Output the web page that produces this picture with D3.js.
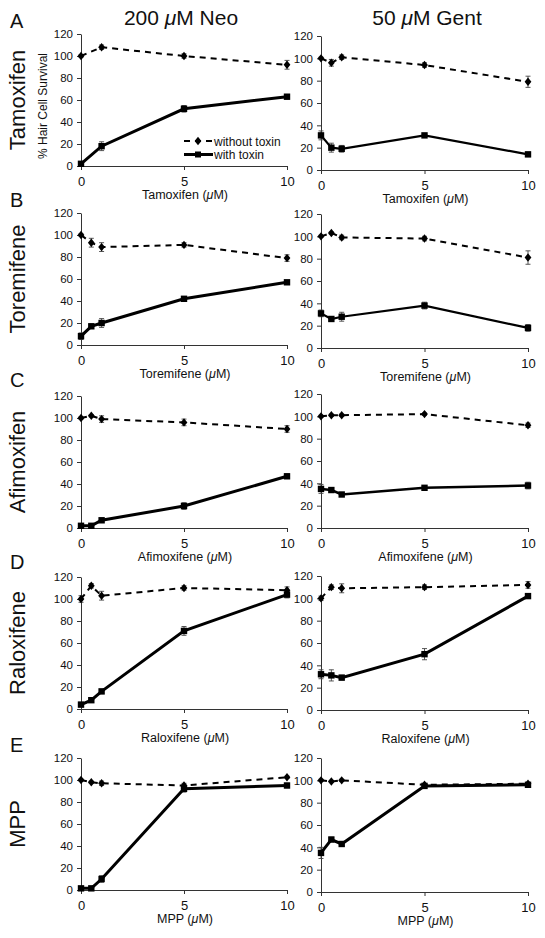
<!DOCTYPE html>
<html>
<head>
<meta charset="utf-8">
<script src="https://cdn.jsdelivr.net/npm/d3@7"></script>
<style>
  html, body { margin: 0; padding: 0; background: #fff; }
  svg { display: block; }
  text { font-family: "Liberation Sans", Arial, Helvetica, sans-serif; fill: #111; }
</style>
</head>
<body>
<svg id="chart" width="545" height="938"></svg>
<script>
// ---------------- DATA ----------------
const panelLetters = ["A", "B", "C", "D", "E"];
const drugs = ["Tamoxifen", "Toremifene", "Afimoxifen", "Raloxifene", "MPP"];
const xTitles = ["Tamoxifen", "Toremifene", "Afimoxifene", "Raloxifene", "MPP"];
const toxinTitles = ["200 ", "50 "];
const toxinNames = [" Neo", " Gent"];
const yTicks = [0, 20, 40, 60, 80, 100, 120];
const xTicks = [0, 5, 10];
const legendLabels = ["without toxin", "with toxin"];

const dosesShort = [0, 1, 5, 10];
const doses = [0, 0.5, 1, 5, 10];

// Neo (left column)
const tamNeoWithout = [100, 108, 100, 92];
const tamNeoWithoutErr = [1, 2, 2, 4];
const tamNeoWith = [2, 18, 52, 63];
const tamNeoWithErr = [1, 4, 3, 2];
const torNeoWithout = [100, 93, 89, 91, 79];
const torNeoWithoutErr = [1, 4, 4, 2, 3];
const torNeoWith = [8, 17, 20, 42, 57];
const torNeoWithErr = [3, 2, 4, 1, 1];
const afiNeoWithout = [100, 102, 99, 96, 90];
const afiNeoWithoutErr = [1, 1, 3, 3, 3];
const afiNeoWith = [2, 2, 7, 20, 47];
const afiNeoWithErr = [1, 1, 2, 3, 2];
const ralNeoWithout = [100, 112, 103, 110, 108];
const ralNeoWithoutErr = [3, 2, 4, 2, 3];
const ralNeoWith = [4, 8, 16, 71, 104];
const ralNeoWithErr = [2, 1, 2, 4, 3];
const mppNeoWithout = [100, 98, 97, 95, 102.5];
const mppNeoWithoutErr = [1, 1, 2, 2, 1];
const mppNeoWith = [1.5, 1.5, 10, 92, 95];
const mppNeoWithErr = [1, 1, 3, 3, 2];

// Gent (right column)
const tamGentWithout = [100, 96, 101, 94, 79];
const tamGentWithoutErr = [1, 3, 2, 2, 5];
const tamGentWith = [31, 20, 19, 31, 14];
const tamGentWithErr = [4, 4, 3, 1, 2];
const torGentWithout = [100, 103, 99, 98, 81];
const torGentWithoutErr = [1, 1, 2, 2, 6];
const torGentWith = [31, 26, 28, 38, 18];
const torGentWithErr = [3, 1, 4, 3, 3];
const afiGentWithout = [100, 101, 101, 102, 92];
const afiGentWithoutErr = [1, 1, 1, 1, 2];
const afiGentWith = [35, 34, 30, 36, 38];
const afiGentWithErr = [4, 2, 1, 1, 3];
const ralGentWithout = [100, 110, 109, 110, 112];
const ralGentWithoutErr = [2, 2, 4, 2, 3];
const ralGentWith = [32, 31, 29, 50, 102];
const ralGentWithErr = [4, 5, 2, 5, 1];
const mppGentWithout = [100, 99, 100, 96, 97];
const mppGentWithoutErr = [1, 1, 1, 1, 1];
const mppGentWith = [35, 47, 43, 95, 96];
const mppGentWithErr = [5, 2, 2, 2, 2];

const neoPanels = [
  [dosesShort, tamNeoWithout, tamNeoWithoutErr, tamNeoWith, tamNeoWithErr],
  [doses, torNeoWithout, torNeoWithoutErr, torNeoWith, torNeoWithErr],
  [doses, afiNeoWithout, afiNeoWithoutErr, afiNeoWith, afiNeoWithErr],
  [doses, ralNeoWithout, ralNeoWithoutErr, ralNeoWith, ralNeoWithErr],
  [doses, mppNeoWithout, mppNeoWithoutErr, mppNeoWith, mppNeoWithErr]
];
const gentPanels = [
  [doses, tamGentWithout, tamGentWithoutErr, tamGentWith, tamGentWithErr],
  [doses, torGentWithout, torGentWithoutErr, torGentWith, torGentWithErr],
  [doses, afiGentWithout, afiGentWithoutErr, afiGentWith, afiGentWithErr],
  [doses, ralGentWithout, ralGentWithoutErr, ralGentWith, ralGentWithErr],
  [doses, mppGentWithout, mppGentWithoutErr, mppGentWith, mppGentWithErr]
];

// ---------------- LAYOUT ----------------
const svg = d3.select("#chart");
svg.append("rect").attr("width", 545).attr("height", 938).attr("fill", "#fff");

const colX = [[81, 287], [321, 528]];
const rowTops = [[34, 213, 396, 577, 758], [36, 214, 394, 576, 758]];
const rowH = [132, 134];
const letterY = [28, 207, 387, 569, 752];
const solidWidths = [[3, 3, 3, 3, 3], [2.2, 2.2, 2.5, 3, 3]];

function diamondPath(cx, cy) {
  return `M${cx},${cy - 4.2}L${cx + 3.4},${cy}L${cx},${cy + 4.2}L${cx - 3.4},${cy}Z`;
}

// headers
[181, 427].forEach((cx, c) => {
  const t = svg.append("text").attr("x", cx).attr("y", 25)
    .attr("text-anchor", "middle").attr("font-size", 21);
  t.append("tspan").text(toxinTitles[c]);
  t.append("tspan").attr("font-style", "italic").text("μ");
  t.append("tspan").text("M" + toxinNames[c]);
});

for (let r = 0; r < 5; r++) {
  // panel letter
  svg.append("text").attr("x", 10).attr("y", letterY[r]).attr("font-size", 20).text(panelLetters[r]);
  // row label
  const midY = rowTops[0][r] + rowH[0] / 2;
  svg.append("text").attr("transform", `translate(25,${midY}) rotate(-90)`)
    .attr("text-anchor", "middle").attr("font-size", 22).text(drugs[r]);

  for (let c = 0; c < 2; c++) {
    const top = rowTops[c][r];
    const h = rowH[c];
    const x = d3.scaleLinear().domain([0, 10]).range(colX[c]);
    const y = d3.scaleLinear().domain([0, 120]).range([top + h, top]);
    const g = svg.append("g");

    const yAxis = g.append("g").attr("transform", `translate(${colX[c][0]},0)`)
      .call(d3.axisLeft(y).tickValues(yTicks).tickSize(4).tickSizeOuter(0).tickPadding(4));
    yAxis.selectAll("text").attr("font-size", 11.5).style("font-family", "Liberation Sans, Arial, sans-serif").attr("fill", "#111");
    yAxis.selectAll("line,path").attr("stroke", "#333");

    const xAxis = g.append("g").attr("transform", `translate(0,${top + h})`)
      .call(d3.axisBottom(x).tickValues(xTicks).tickSize(4).tickSizeOuter(0).tickPadding(7));
    xAxis.selectAll("text").attr("font-size", 13).style("font-family", "Liberation Sans, Arial, sans-serif").attr("fill", "#111");
    xAxis.selectAll("line,path").attr("stroke", "#333");

    // x title
    const xt = g.append("text").attr("x", (colX[c][0] + colX[c][1]) / 2 + 1).attr("y", top + h + 33)
      .attr("text-anchor", "middle").attr("font-size", 12.5);
    xt.append("tspan").text(xTitles[r] + " (");
    xt.append("tspan").attr("font-style", "italic").text("μ");
    xt.append("tspan").text("M)");

    const p = (c === 0 ? neoPanels : gentPanels)[r];
    const ds = p[0];
    const wo = ds.map((d, i) => ({ x: d, y: p[1][i], e: p[2][i] }));
    const wi = ds.map((d, i) => ({ x: d, y: p[3][i], e: p[4][i] }));

    const line = d3.line().x(d => x(d.x)).y(d => y(d.y));

    // error bars
    [wo, wi].forEach(series => {
      const eb = g.append("g").attr("stroke", "#444").attr("stroke-width", 0.9);
      series.forEach(d => {
        const xx = x(d.x);
        eb.append("line").attr("x1", xx).attr("x2", xx).attr("y1", y(d.y - d.e)).attr("y2", y(d.y + d.e));
        eb.append("line").attr("x1", xx - 2.5).attr("x2", xx + 2.5).attr("y1", y(d.y - d.e)).attr("y2", y(d.y - d.e));
        eb.append("line").attr("x1", xx - 2.5).attr("x2", xx + 2.5).attr("y1", y(d.y + d.e)).attr("y2", y(d.y + d.e));
      });
    });

    g.append("path").datum(wo).attr("d", line).attr("fill", "none")
      .attr("stroke", "#000").attr("stroke-width", 2).attr("stroke-dasharray", "6,5");
    g.append("path").datum(wi).attr("d", line).attr("fill", "none")
      .attr("stroke", "#000").attr("stroke-width", solidWidths[c][r]);

    g.selectAll(".dm").data(wo).enter().append("path")
      .attr("d", d => diamondPath(x(d.x), y(d.y))).attr("fill", "#000");
    g.selectAll(".sq").data(wi).enter().append("rect")
      .attr("x", d => x(d.x) - 3.2).attr("y", d => y(d.y) - 3.2)
      .attr("width", 6.4).attr("height", 6.4).attr("fill", "#000");

    if (r === 0 && c === 0) {
      // y axis title
      svg.append("text").attr("transform", `translate(47,106) rotate(-90)`)
        .attr("text-anchor", "middle").attr("font-size", 12).text("% Hair Cell Survival");
      // legend
      const lg = svg.append("g");
      lg.append("line").attr("x1", 184).attr("x2", 213).attr("y1", 141).attr("y2", 141)
        .attr("stroke", "#000").attr("stroke-width", 2).attr("stroke-dasharray", "6,5");
      lg.append("path").attr("d", diamondPath(198, 141)).attr("fill", "#000");
      lg.append("text").attr("x", 214).attr("y", 145.5).attr("font-size", 12).text(legendLabels[0]);
      lg.append("line").attr("x1", 184).attr("x2", 213).attr("y1", 154.5).attr("y2", 154.5)
        .attr("stroke", "#000").attr("stroke-width", 3);
      lg.append("rect").attr("x", 195).attr("y", 151.5).attr("width", 6).attr("height", 6).attr("fill", "#000");
      lg.append("text").attr("x", 214).attr("y", 159).attr("font-size", 12).text(legendLabels[1]);
    }
  }
}
</script>
</body>
</html>
